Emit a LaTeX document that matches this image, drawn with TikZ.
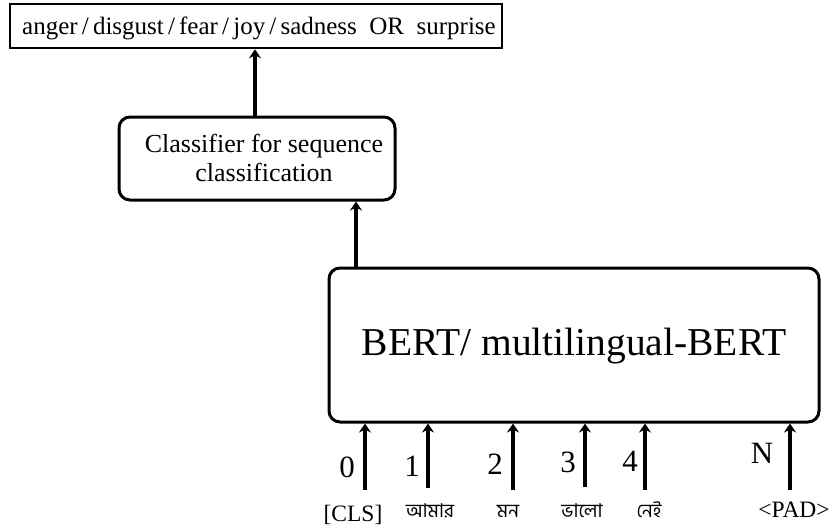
\documentclass[tikz,border=0pt]{standalone}
\usepackage{fontspec}
\setmainfont{Liberation Serif}
\newfontfamily\bnfont[Script=Bengali]{Hind Siliguri}
\usetikzlibrary{arrows.meta}
\tikzset{
  arr/.style={line width=3.5pt,-{Stealth[length=9pt,width=12pt,inset=3pt]}},
  rbox/.style={draw,line width=3pt,rounded corners=11pt},
  num/.style={font=\fontsize{31}{33}\selectfont,anchor=base},
  tok/.style={font=\fontsize{23.5}{25}\selectfont,anchor=base},
  bn/.style={font=\bnfont\fontsize{19}{21}\selectfont,anchor=base},
}
\begin{document}
\begin{tikzpicture}[x=1pt,y=-1pt]
\useasboundingbox (0,0) rectangle (833,531);
% boxes
\node[draw,line width=2.5pt,minimum width=492pt,minimum height=44pt,inner sep=0pt] (out) at (256,26) {};
\node[font=\fontsize{25}{27}\selectfont,anchor=base] (outtxt) at (259,34) {anger\,/\,disgust\,/\,fear\,/\,joy\,/\,sadness\ \ OR\ \ surprise};
\node[rbox,minimum width=276pt,minimum height=83pt,inner sep=0pt] (clf) at (257,158.5) {};
\node[font=\fontsize{26}{29}\selectfont,align=center,anchor=base] (clftxt) at (264,181) {Classifier for sequence\\classification};
\node[rbox,minimum width=490pt,minimum height=154pt,inner sep=0pt] (bert) at (574,345) {};
\node[font=\fontsize{39.5}{42}\selectfont,anchor=base] (berttxt) at (574,355) {BERT/ multilingual-BERT};
% arrows between boxes
\draw[arr] (clf.north -| 255,0) -- (out.south -| 255,0);
\draw[arr] (bert.north -| 356,0) -- (clf.south -| 356,0);
% input arrows
\coordinate (s0) at (365,490);
\coordinate (s1) at (428,488);
\coordinate (s2) at (513,490);
\coordinate (s3) at (585,487);
\coordinate (s4) at (645,490);
\coordinate (sN) at (790,490);
\foreach \s in {s0,s1,s2,s3,s4,sN}{
  \draw[arr] (\s) -- (\s |- bert.south);
}
% numbers
\node[num] (n0) at (347,477) {0};
\node[num] (n1) at (412,476) {1};
\node[num] (n2) at (495,474) {2};
\node[num] (n3) at (568,472) {3};
\node[num] (n4) at (630,471) {4};
\node[num] (nN) at (762,463) {N};
% tokens
\node[tok] (t0) at (353,521) {[CLS]};
\node[bn] (t1) at (430,517) {আমার};
\node[bn] (t2) at (508,517) {মন};
\node[bn] (t3) at (582,517) {ভালো};
\node[bn] (t4) at (649,517) {নেই};
\node[tok] (tN) at (794,517) {<PAD>};
\end{tikzpicture}
\end{document}
